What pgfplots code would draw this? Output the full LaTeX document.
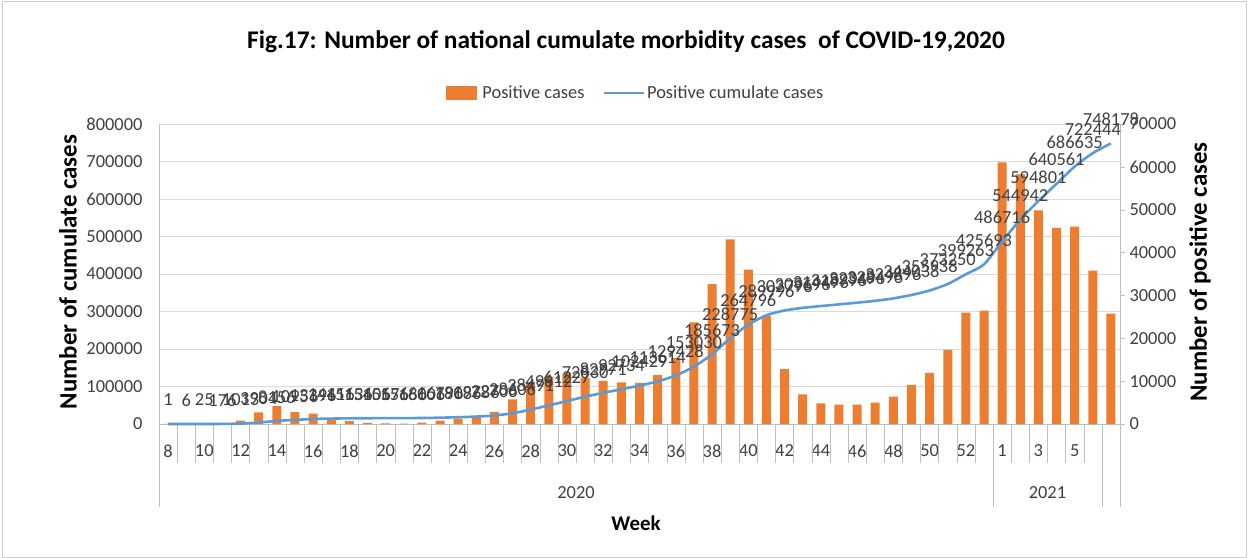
\documentclass[border=0pt]{standalone}
\usepackage{fontspec}
\setmainfont{Carlito}
\usepackage{pgfplots}
\pgfplotsset{compat=1.18}
\usepackage{pgfplotstable}
\definecolor{barorange}{HTML}{ED7D31}
\definecolor{lineblue}{HTML}{5B9BD5}
\definecolor{gridgray}{HTML}{D9D9D9}
\definecolor{axgray}{HTML}{BFBFBF}
\definecolor{txtgray}{HTML}{404040}

\pgfplotstableread{
x pos cum
0 1 1
1 5 6
2 19 25
3 151 176
4 800 1013
5 2700 3904
6 4150 8156
7 2750 10956
8 2400 13396
9 1000 14416
10 700 15136
11 260 15406
12 160 15576
13 100 15686
14 300 16006
15 770 16796
16 1250 18086
17 1640 19786
18 2850 22706
19 5750 28606
20 9750 38491
21 11050 49612
22 11800 61227
23 10800 72830
24 10050 82971
25 9700 92734
26 9600 102429
27 11450 113614
28 15450 129428
29 23700 153030
30 32643 185673
31 43102 228775
32 36021 264796
33 25200 289996
34 12800 302796
35 6900 309696
36 4800 314496
37 4500 318996
38 4500 323496
39 5000 328496
40 6400 334896
41 9142 344038
42 11900 355938
43 17312 373250
44 26013 399263
45 26430 425693
46 61023 486716
47 58226 544942
48 49859 594801
49 45760 640561
50 46074 686635
51 35809 722444
52 25734 748178
}\data

\newcommand{\tfont}{\fontsize{18.5}{21}\selectfont}

\begin{document}
\begin{tikzpicture}
\useasboundingbox (0,0) rectangle (1251bp,558bp);
\draw[axgray!80] (2bp,1bp) rectangle (1246bp,557bp);

% bars on right axis
\begin{axis}[
  at={(159bp,134bp)}, anchor=south west, scale only axis,
  width=961bp, height=300bp,
  xmin=-0.5, xmax=52.5, ymin=0, ymax=70000,
  axis x line*=bottom, axis y line*=right,
  axis line style={axgray},
  clip=false,
  xtick={0,2,...,50},
  xticklabels={8,10,12,14,16,18,20,22,24,26,28,30,32,34,36,38,40,42,44,46,48,50,52,1,3,5},
  xtick style={draw=none},
  xticklabel style={anchor=center, yshift=-27bp, font=\tfont, text=txtgray},
  ytick={0,10000,...,70000},
  ytick align=outside,
  ytick style={draw=axgray},
  major tick length=5bp,
  scaled y ticks=false,
  yticklabel style={font=\tfont, text=txtgray, xshift=1bp, /pgf/number format/1000 sep={}, /pgf/number format/assume math mode=true},
  extra y ticks={8750,17500,...,70000},
  extra y tick labels={},
  extra y tick style={grid=major, major grid style={gridgray, line width=0.8bp}, ytick style={draw=none}},
]
\addplot[ybar, bar width=9bp, fill=barorange, draw=none] table[x=x, y=pos] {\data};
\pgfplotsinvokeforeach{-0.5,0.5,...,52.5}{
  \draw[axgray] (axis cs:#1,0) -- ++(0bp,-39bp);
}
\draw[axgray] (axis cs:-0.5,0) -- ++(0bp,-83bp);
\draw[axgray] (axis cs:45.5,0) -- ++(0bp,-83bp);
\draw[axgray] (axis cs:51.5,0) -- ++(0bp,-83bp);
\draw[axgray] (axis cs:52.5,0) -- ++(0bp,-83bp);
\node[font=\tfont, text=txtgray] at (axis cs:22.5,0) [yshift=-69bp] {2020};
\node[font=\tfont, text=txtgray] at (axis cs:48.5,0) [yshift=-69bp] {2021};
\end{axis}

% cumulative line on left axis
\begin{axis}[
  at={(159bp,134bp)}, anchor=south west, scale only axis,
  width=961bp, height=300bp,
  xmin=-0.5, xmax=52.5, ymin=0, ymax=800000,
  axis x line=none, axis y line*=left,
  axis line style={axgray},
  clip=false,
  ytick={0,100000,...,800000},
  ytick style={draw=none},
  scaled y ticks=false,
  yticklabel style={font=\tfont, text=txtgray, xshift=-13bp, /pgf/number format/1000 sep={}, /pgf/number format/fixed, /pgf/number format/assume math mode=true},
  legend style={at={(0.496,1.103)}, anchor=center, draw=none, fill=none,
    font=\tfont, text=txtgray, legend columns=2,
    /tikz/every even column/.append style={column sep=16bp}},
]
\addlegendimage{legend image code/.code={\fill[barorange] (0bp,-6bp) rectangle (30bp,7bp); \path (34bp,0bp);}}
\addlegendentry{Positive cases}
\addplot[lineblue, line width=2.6bp, smooth, tension=0.4,
  nodes near coords, point meta=explicit symbolic,
  every node near coord/.append style={font=\tfont, text=txtgray, anchor=center, yshift=24bp},
  legend image code/.code={\draw[lineblue, line width=2.6bp] (0bp,0bp) -- (40bp,0bp);}]
  table[x=x, y=cum, meta=cum] {\data};
\addlegendentry{Positive cumulate cases}
\end{axis}

\node[font=\bfseries\fontsize{25.5}{30}\selectfont] at (626bp,516bp) {Fig.17: Number of national cumulate morbidity cases\ \ of COVID-19,2020};
\node[font=\bfseries\fontsize{25}{28}\selectfont, rotate=90] at (68bp,286bp) {Number of cumulate cases};
\node[font=\bfseries\fontsize{25}{28}\selectfont, rotate=90] at (1200bp,286bp) {Number of positive cases};
\node[font=\bfseries\fontsize{21}{24}\selectfont] at (636bp,35bp) {Week};
\end{tikzpicture}
\end{document}
